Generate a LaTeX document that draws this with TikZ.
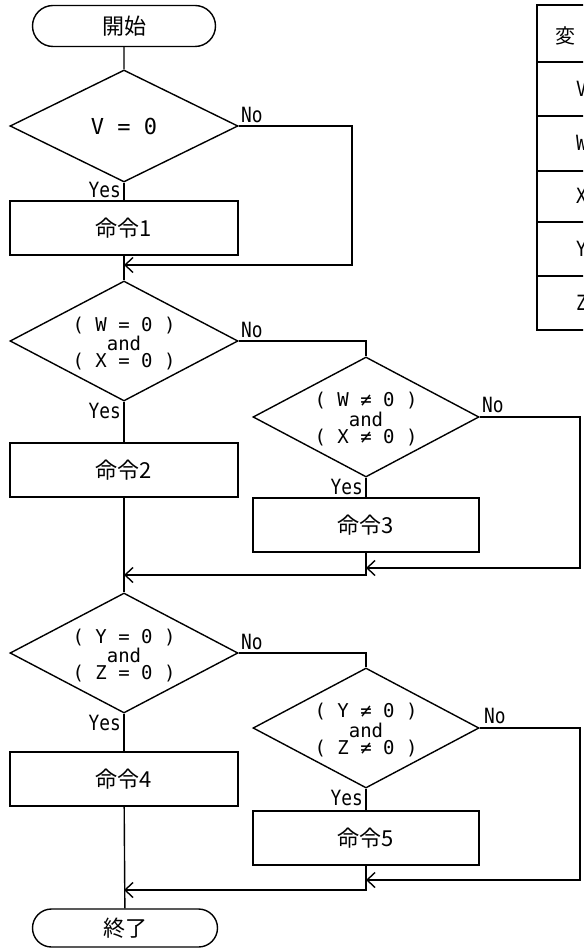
\documentclass[tikz,border=0pt]{standalone}
\usepackage{fontspec}
\setmainfont{Noto Sans CJK JP}
\newfontfamily\jpf{Noto Sans CJK JP}
\newfontfamily\monof{DejaVu Sans Mono}
\newfontfamily\monocf[FakeStretch=0.85]{DejaVu Sans Mono}
\usetikzlibrary{shapes.geometric,shapes.misc,arrows.meta}
\begin{document}
\begin{tikzpicture}[x=1pt,y=-1pt,
  lw/.style={line width=1.4pt},
  flow/.style={lw},
  arr/.style={lw,-{Straight Barb[length=8pt,width=15pt,line width=1.4pt]}},
  dec/.style={draw,lw,diamond,inner sep=0pt,minimum width=228pt,minimum height=120pt},
  procbox/.style={draw,lw,rectangle,inner sep=0pt,minimum width=228pt,minimum height=54pt,font=\jpf\fontsize{22}{26}\selectfont},
  term/.style={draw,lw,rounded rectangle,inner sep=0pt,minimum width=183pt,minimum height=41pt,font=\jpf\fontsize{22}{26}\selectfont},
  cond/.style={inner sep=0pt,font=\monof\fontsize{19}{22}\selectfont},
  bigcond/.style={inner sep=0pt,font=\monof\fontsize{22}{26}\selectfont},
  yeslbl/.style={inner sep=0pt,anchor=east,font=\monocf\fontsize{21}{24}\selectfont},
  nolbl/.style={inner sep=0pt,anchor=south west,font=\monocf\fontsize{21}{24}\selectfont},
  tbltext/.style={inner sep=0pt,font=\jpf\fontsize{20}{24}\selectfont},
  tblletter/.style={inner sep=0pt,anchor=west,font=\monocf\fontsize{21}{24}\selectfont},
]
\useasboundingbox (0,0) rectangle (583,949);
\clip (0,0) rectangle (583,949);

% start
\node[term] (start) at (124,26) {開始};

% decision 1
\node[dec,minimum height=112pt] (d1) at (124,126) {};
\node[bigcond] (c1) at (124,126) {V = 0};
\node[procbox] (p1) at (124,228) {命令1};
\node[yeslbl] (y1) at (121,190) {Yes};
\node[nolbl] (n1) at (241,123) {No};
\coordinate (r1) at (352,126);
\coordinate (r1b) at (352,265);
\coordinate (m1) at (124,265);
\draw[flow] (start) -- (d1);
\draw[flow] (d1) -- (p1);
\draw[arr] (d1.east) -- (r1) -- (r1b) -- (m1);

% decision 2
\node[dec] (d2) at (124,341) {};
\node[cond] (c2a) at (124,326) {( W = 0 )};
\node[cond] (c2b) at (124,343) {and};
\node[cond] (c2c) at (124,362) {( X = 0 )};
\draw[flow] (p1) -- (d2);
\node[yeslbl] (y2) at (121,411) {Yes};
\node[nolbl] (n2) at (241,338) {No};
\node[procbox] (p2) at (124,470) {命令2};
\draw[flow] (d2) -- (p2);

% decision 3
\node[dec,minimum width=226pt] (d3) at (366,417) {};
\node[cond] (c3a) at (366,401) {( W ≠ 0 )};
\node[cond] (c3b) at (366,419) {and};
\node[cond] (c3c) at (366,438) {( X ≠ 0 )};
\draw[flow] (d2.east) -| (d3.north);
\node[yeslbl] (y3) at (363,487) {Yes};
\node[nolbl] (n3) at (482,413) {No};
\node[procbox,minimum width=226pt] (p3) at (366,525) {命令3};
\draw[flow] (d3) -- (p3);
\coordinate (r3) at (580,417);
\coordinate (r3b) at (580,568);
\coordinate (m3r) at (366,568);
\draw[arr] (d3.east) -- (r3) -- (r3b) -- (m3r);
\coordinate (m3) at (366,575);
\coordinate (m2) at (124,575);
\draw[arr] (p3.south) -- (m3) -- (m2);

% decision 4
\node[dec] (d4) at (124,653) {};
\node[cond] (c4a) at (124,638) {( Y = 0 )};
\node[cond] (c4b) at (124,655) {and};
\node[cond] (c4c) at (124,674) {( Z = 0 )};
\draw[flow] (p2) -- (d4);
\node[yeslbl] (y4) at (121,723) {Yes};
\node[nolbl] (n4) at (241,650) {No};
\node[procbox] (p4) at (124,779) {命令4};
\draw[flow] (d4) -- (p4);

% decision 5
\node[dec,minimum width=226pt] (d5) at (366,728) {};
\node[cond] (c5a) at (366,712) {( Y ≠ 0 )};
\node[cond] (c5b) at (366,730) {and};
\node[cond] (c5c) at (366,749) {( Z ≠ 0 )};
\draw[flow] (d4.east) -| (d5.north);
\node[yeslbl] (y5) at (363,798) {Yes};
\node[nolbl] (n5) at (484,724) {No};
\node[procbox,minimum width=226pt] (p5) at (366,838) {命令5};
\draw[flow] (d5) -- (p5);
\coordinate (r5) at (580,728);
\coordinate (r5b) at (580,880);
\coordinate (m5r) at (366,880);
\draw[arr] (d5.east) -- (r5) -- (r5b) -- (m5r);
\coordinate (m5) at (366,890);
\coordinate (m4) at (124,890);
\draw[arr] (p5.south) -- (m5) -- (m4);

% end
\node[term,minimum height=38pt,minimum width=185pt] (end) at (125,928) {終了};
\draw[flow] (p4) -- (end);

% table (cut off at the right edge)
\draw[lw] (600,5) -- (537,5) -- (537,330) -- (600,330);
\foreach \yy in {62,116,171,222,276} \draw[lw] (537,\yy) -- (600,\yy);
\node[tbltext] (t0) at (565,36) {変};
\node[tblletter] (tv) at (576,89) {V};
\node[tblletter] (tw) at (576,143) {W};
\node[tblletter] (tx) at (576,196) {X};
\node[tblletter] (ty) at (576,249) {Y};
\node[tblletter] (tz) at (576,303) {Z};
\end{tikzpicture}
\end{document}
